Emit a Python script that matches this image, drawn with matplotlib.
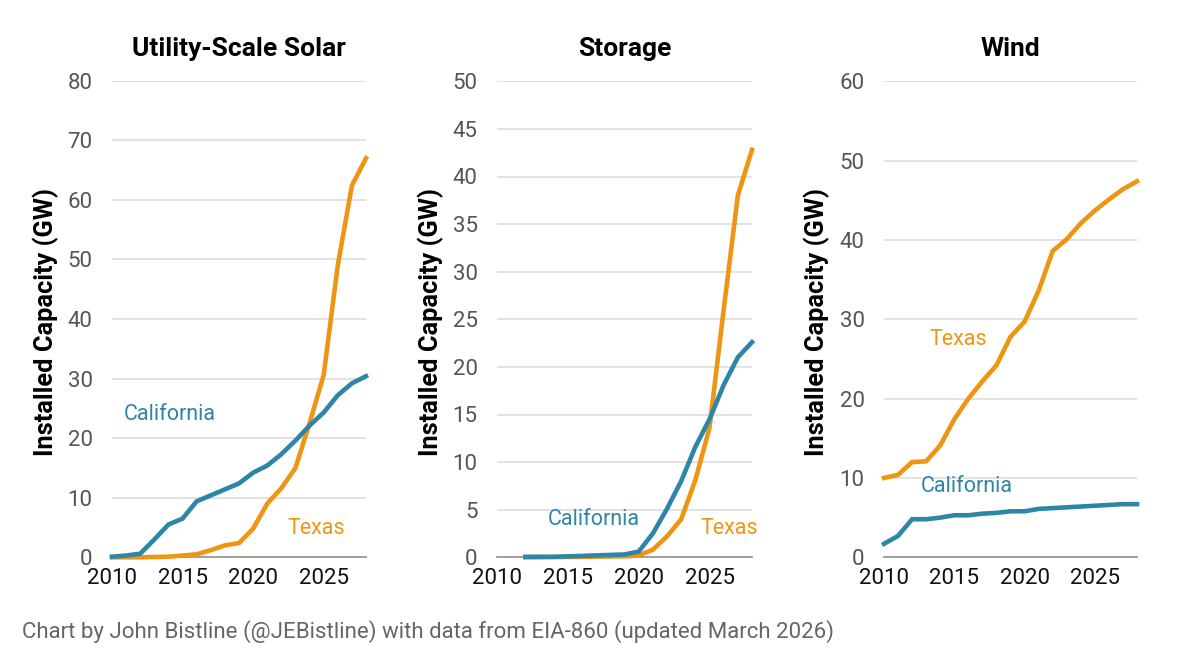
import matplotlib
matplotlib.use("Agg")
import matplotlib.pyplot as plt
import numpy as np

years = list(range(2010, 2029))
storage_years = list(range(2012, 2029))

solar_ca = [0.1, 0.3, 0.6, 3.0, 5.5, 6.5, 9.4, 10.4, 11.4, 12.4, 14.2, 15.4, 17.3, 19.6, 22.1, 24.3, 27.2, 29.2, 30.4]
solar_tx = [0.0, 0.0, 0.0, 0.05, 0.1, 0.3, 0.5, 1.2, 2.0, 2.4, 4.8, 9.0, 11.6, 15.0, 22.5, 30.6, 49.0, 62.4, 67.0]

storage_ca = [0.05, 0.05, 0.05, 0.1, 0.15, 0.2, 0.25, 0.3, 0.6, 2.5, 5.1, 8.0, 11.6, 14.5, 18.1, 21.0, 22.6]
storage_tx = [0.0, 0.02, 0.03, 0.04, 0.05, 0.07, 0.08, 0.1, 0.2, 0.8, 2.2, 4.0, 8.1, 13.6, 26.0, 38.0, 42.8]

wind_ca = [1.7, 2.7, 4.8, 4.8, 5.0, 5.3, 5.3, 5.5, 5.6, 5.8, 5.8, 6.1, 6.2, 6.3, 6.4, 6.5, 6.6, 6.7, 6.7]
wind_tx = [10.0, 10.4, 12.0, 12.1, 14.1, 17.4, 20.0, 22.2, 24.2, 27.8, 29.7, 33.6, 38.6, 40.1, 42.1, 43.7, 45.1, 46.4, 47.4]

titles = ["Utility-Scale Solar", "Storage", "Wind"]
ylabel = "Installed Capacity (GW)"
xticks = [2010, 2015, 2020, 2025]
caption = "Chart by John Bistline (@JEBistline) with data from EIA-860 (updated March 2026)"

CA_COLOR = "#2E86A6"
TX_COLOR = "#EE9512"

plt.rcParams['font.family'] = ['Roboto', 'DejaVu Sans']

W, H = 1200, 661
fig = plt.figure(figsize=(12, 6.61), dpi=100)

def add_ax(x0, x1, ytop, ybot):
    return fig.add_axes([x0 / W, (H - ybot) / H, (x1 - x0) / W, (ybot - ytop) / H])

panels = [
    dict(box=(112, 366, 80.7, 557.3), ymax=80, ystep=10,
         ca=(years, solar_ca), tx=(years, solar_tx),
         ca_lab=(2014.1, 23.9), tx_lab=(2024.5, 4.9), ylab_x=46),
    dict(box=(497, 752, 81.3, 557.3), ymax=50, ystep=5,
         ca=(storage_years, storage_ca), tx=(storage_years, storage_tx),
         ca_lab=(2016.8, 4.0), tx_lab=(2026.4, 3.0), ylab_x=431),
    dict(box=(884, 1137, 81.3, 557.3), ymax=60, ystep=10,
         ca=(years, wind_ca), tx=(years, wind_tx),
         ca_lab=(2015.9, 8.95), tx_lab=(2015.3, 27.4), ylab_x=817),
]

for p, title in zip(panels, titles):
    ax = add_ax(*p["box"])
    ax.plot(p["tx"][0], p["tx"][1], color=TX_COLOR, lw=3.3, solid_joinstyle='miter', zorder=3)
    ax.plot(p["ca"][0], p["ca"][1], color=CA_COLOR, lw=3.3, solid_joinstyle='miter', zorder=3)
    ax.set_xlim(2010, 2028)
    ax.set_ylim(0, p["ymax"])
    ax.set_yticks(np.arange(0, p["ymax"] + 0.1, p["ystep"]))
    ax.set_xticks(xticks)
    ax.set_yticklabels([f"{int(v)}" for v in ax.get_yticks()])
    ax.grid(axis='y', color='#dddddd', lw=1.2, zorder=0)
    ax.set_axisbelow(True)
    for s in ['left', 'right', 'top']:
        ax.spines[s].set_visible(False)
    ax.spines['bottom'].set_color('#999999')
    ax.spines['bottom'].set_linewidth(1.3)
    ax.spines['bottom'].set_zorder(2)
    ax.tick_params(axis='y', length=0, pad=14, labelsize=16, labelcolor='#555555')
    ax.tick_params(axis='x', length=0, pad=8, labelsize=16, labelcolor='#111111')
    ax.set_title(title, fontsize=19, fontweight='bold', pad=18)
    fig.text(p["ylab_x"] / W, 1 - 322 / H, ylabel, rotation=90, ha='center', va='center',
             fontsize=18.3, fontweight='bold')
    ax.text(*p["ca_lab"], "California", color=CA_COLOR, fontsize=15.5, ha='center', va='center')
    ax.text(*p["tx_lab"], "Texas", color=TX_COLOR, fontsize=15.5, ha='center', va='center')
    for ln in ax.lines:
        ln.set_clip_on(False)

fig.text(22 / W, 1 - 632 / H, caption, ha='left', va='center', fontsize=16, color='#666666')

fig.savefig("out.png", dpi=100, facecolor='white')
